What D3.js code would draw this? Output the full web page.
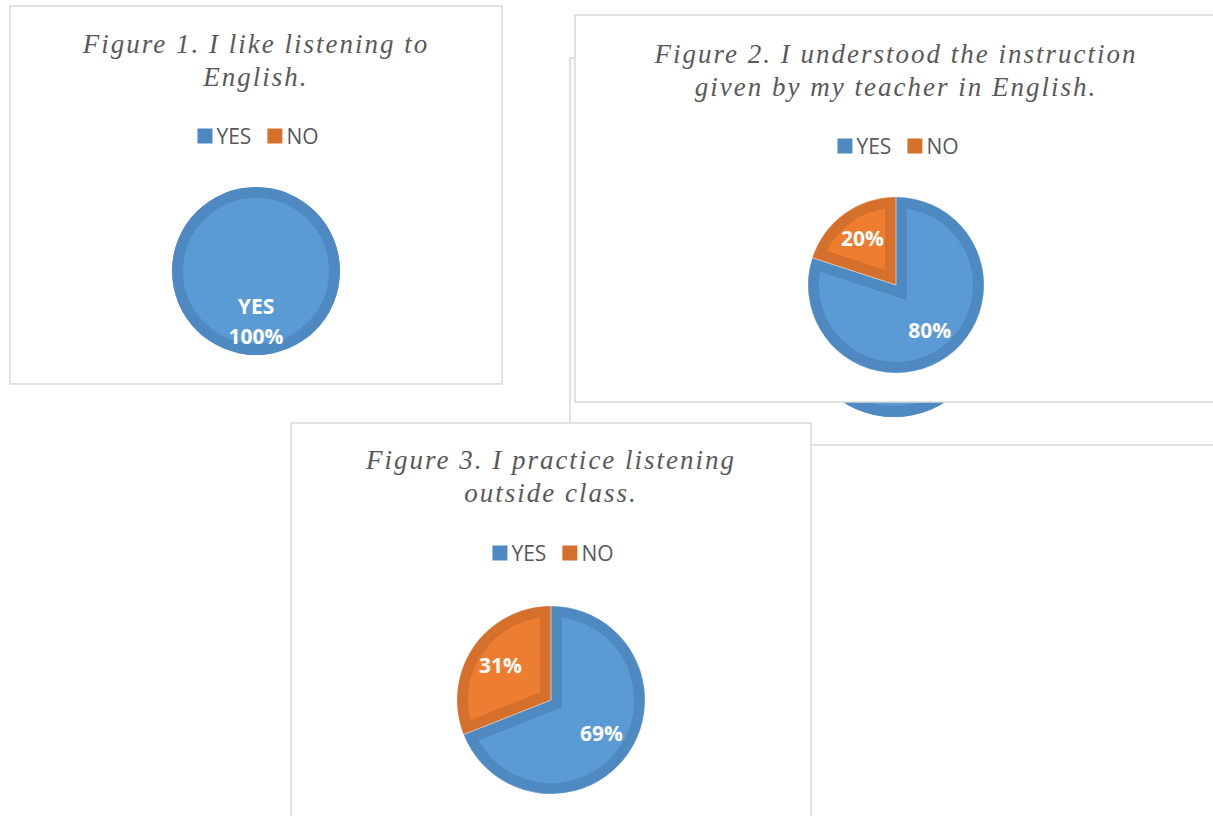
<!DOCTYPE html>
<head>
  <meta charset="utf-8">
  <script src="https://d3js.org/d3.v7.min.js"></script>
  <style>
    body { margin:0; background:#fff; }
    svg { display:block; }
    .title { font-family: "Liberation Serif", serif; font-style: italic; font-size: 27px; fill: #595959; letter-spacing: 2px; }
    .legend { font-family: "Open Sans", sans-serif; font-size: 21px; fill: #595959; }
    .label { font-family: "Open Sans", sans-serif; font-size: 21px; font-weight: bold; fill: #fff; }
  </style>
</head>
<body>
<script>
  // data
  var categories = ["YES", "NO"];
  var fig1Title = ["Figure 1. I like listening to", "English."];
  var fig2Title = ["Figure 2. I understood the instruction", "given by my teacher in English."];
  var fig3Title = ["Figure 3. I practice listening", "outside class."];
  var fig1Values = [100, 0];
  var fig2Values = [80, 20];
  var fig3Values = [69, 31];
  var hiddenValues = [100, 0];   // chart mostly covered by figure 2

  var fill = {YES: "#5B9BD5", NO: "#ED7D31"};
  var edge = {YES: "#4F89C1", NO: "#D46F2C"};

  var width = 1213, height = 816;
  var svg = d3.select("body").append("svg")
      .attr("width", width)
      .attr("height", height);

  var clipId = 0;

  function drawPanel(p) {
    var g = svg.append("g");
    g.append("rect")
      .attr("x", p.x).attr("y", p.y)
      .attr("width", p.w).attr("height", p.h)
      .attr("fill", "#fff")
      .attr("stroke", "#D9D9D9")
      .attr("stroke-width", 1.5);

    var cx = p.x + p.w / 2;

    if (p.title) {
      var t = g.append("text").attr("class", "title").attr("text-anchor", "middle");
      p.title.forEach(function(line, i) {
        t.append("tspan").attr("x", cx).attr("y", p.y + p.titleY + i * 33).text(line);
      });
    }

    if (p.legend) {
      var lg = g.append("g");
      var xpos = 0;
      categories.forEach(function(c, i) {
        lg.append("rect")
          .attr("x", xpos).attr("y", -7.5)
          .attr("width", 15).attr("height", 15)
          .attr("fill", edge[c]);
        var tx = lg.append("text").attr("class", "legend")
          .attr("x", xpos + 19).attr("y", 7.5).text(c);
        xpos += 19 + tx.node().getComputedTextLength() + 16;
      });
      var lw = xpos - 16;
      lg.attr("transform", "translate(" + (cx - lw / 2 + 2) + "," + (p.y + p.legendY) + ")");
    }

    var data = categories.map(function(c, i) { return {cat: c, value: p.values[i]}; });
    var pie = d3.pie().sort(null).value(function(d) { return d.value; });
    var arc = d3.arc().innerRadius(0).outerRadius(p.r);
    var labelArc = d3.arc().innerRadius(0).outerRadius(p.r * 1.3);
    var total = d3.sum(p.values);

    var pg = g.append("g").attr("transform", "translate(" + cx + "," + (p.y + p.pieY) + ")");
    pie(data).forEach(function(s) {
      if (s.data.value <= 0) return;
      var id = "clip" + (clipId++);
      pg.append("clipPath").attr("id", id)
        .append("path").attr("d", arc(s));
      pg.append("path")
        .attr("d", arc(s))
        .attr("clip-path", "url(#" + id + ")")
        .attr("fill", fill[s.data.cat])
        .attr("stroke", edge[s.data.cat])
        .attr("stroke-width", 22)
        .attr("stroke-linejoin", "miter");
      if (p.labels) {
        var c = labelArc.centroid(s);
        var pct = Math.round(s.data.value / total * 100) + "%";
        var lt = pg.append("text").attr("class", "label").attr("text-anchor", "middle");
        if (p.showCat) {
          lt.append("tspan").attr("x", c[0]).attr("y", c[1] - 12).text(s.data.cat);
          lt.append("tspan").attr("x", c[0]).attr("y", c[1] + 18).text(pct);
        } else {
          lt.attr("x", c[0]).attr("y", c[1] + 7).text(pct);
        }
      }
    });
    // thin light seams between slices
    if (p.values.filter(function(v) { return v > 0; }).length > 1) {
      pg.selectAll(".seam").data(pie(data)).enter().append("path")
        .attr("class", "seam")
        .attr("d", arc)
        .attr("fill", "none")
        .attr("stroke", "#fff")
        .attr("stroke-opacity", 0.5)
        .attr("stroke-width", 0.6);
    }
  }

  // figure 1
  drawPanel({x: 10, y: 6, w: 492, h: 378, title: fig1Title, titleY: 47, legend: true, legendY: 130,
             values: fig1Values, r: 84, pieY: 265, labels: true, showCat: true});
  // chart lying behind figure 2
  drawPanel({x: 570, y: 58, w: 648, h: 387, values: hiddenValues, r: 96, pieY: 263, labels: false});
  // figure 2
  drawPanel({x: 575, y: 15, w: 642, h: 387, title: fig2Title, titleY: 48, legend: true, legendY: 131,
             values: fig2Values, r: 88, pieY: 270, labels: true});
  // figure 3
  drawPanel({x: 291, y: 423, w: 520, h: 420, title: fig3Title, titleY: 46, legend: true, legendY: 130,
             values: fig3Values, r: 94, pieY: 277, labels: true});
</script>
</body>
